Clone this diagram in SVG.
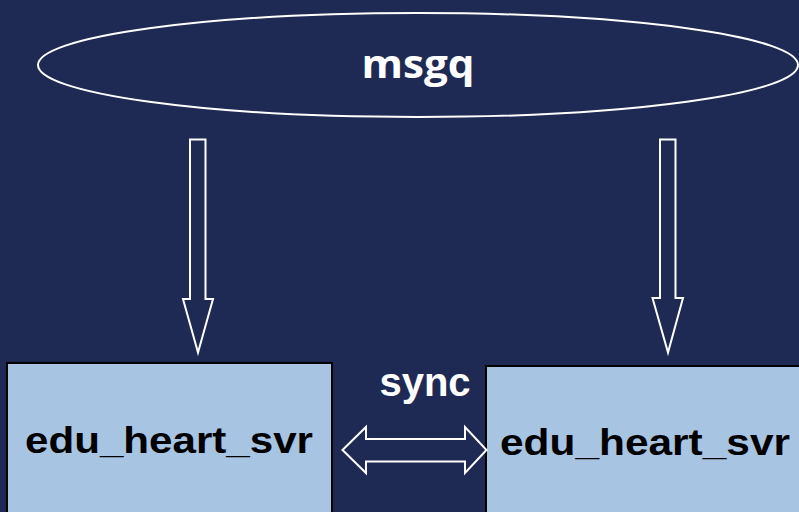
<svg xmlns="http://www.w3.org/2000/svg" width="799" height="512" viewBox="0 0 799 512">
<style>
.bg{fill:#1f2a54}
.outline{fill:none;stroke:#ffffff;stroke-width:2}
.box{fill:#a7c5e3;stroke:#000000;stroke-width:2}
.wt{fill:#ffffff;font-family:"Open Sans","Liberation Sans",sans-serif;font-weight:bold}
.bt{fill:#000000;font-family:"Liberation Sans",Arial,sans-serif;font-weight:bold}
</style>
<rect class="bg" x="0" y="0" width="799" height="512"/>
<g id="msgq">
<ellipse class="outline" cx="418" cy="65" rx="380" ry="52"/>
<text class="wt" x="418" y="78" font-size="40" text-anchor="middle" textLength="113" lengthAdjust="spacingAndGlyphs">msgq</text>
</g>
<g id="svr1">
<rect class="box" x="7" y="363" width="325" height="160"/>
<text class="bt" x="25" y="452.5" font-size="37" textLength="288" lengthAdjust="spacingAndGlyphs">edu_heart_svr</text>
</g>
<g id="svr2">
<rect class="box" x="486" y="366" width="320" height="160"/>
<text class="bt" x="500" y="455" font-size="37" textLength="290" lengthAdjust="spacingAndGlyphs">edu_heart_svr</text>
</g>
<g id="connectors">
<polygon class="outline" points="190,139.5 205.5,139.5 205.5,299 213,299 198,352.5 183,299 190,299"/>
<polygon class="outline" points="660,139.5 675.5,139.5 675.5,298 683,298 668,352.5 652.5,298 660,298"/>
<polygon class="outline" points="342.5,450 366,427 366,439 465,439 465,427 486.5,450 465,473 465,461.5 366,461.5 366,473"/>
<text class="wt" x="425" y="396" font-size="40" text-anchor="middle" font-family="'Liberation Sans',Arial,sans-serif" style="font-family:'Liberation Sans',Arial,sans-serif">sync</text>
</g>
</svg>
